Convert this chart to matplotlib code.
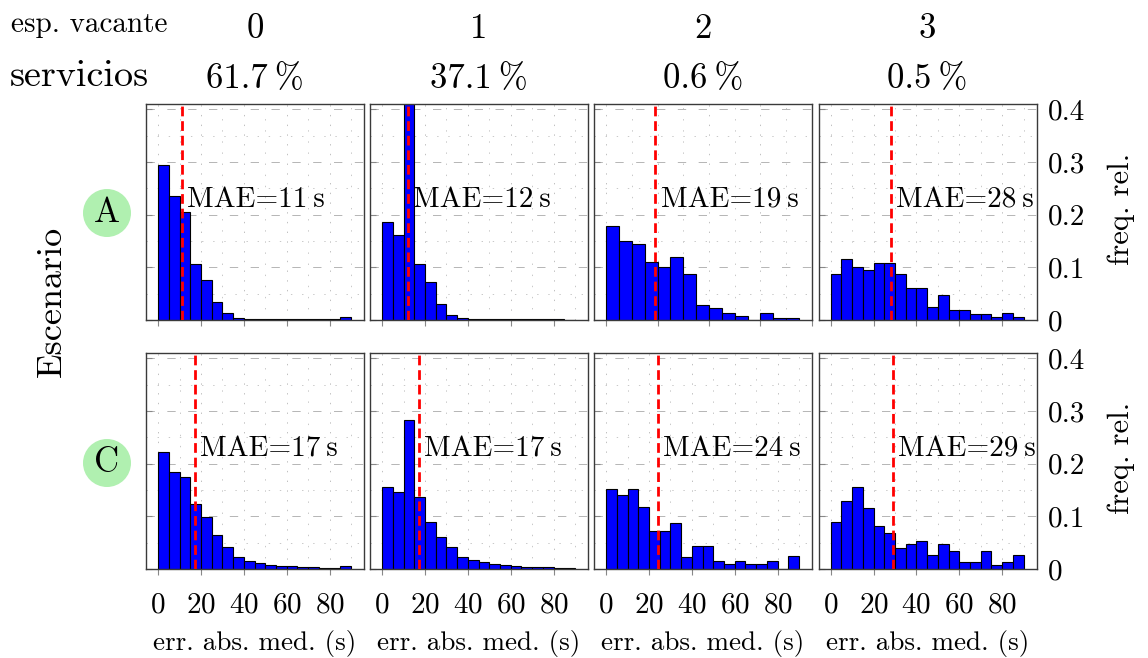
import numpy as np
import matplotlib.pyplot as plt
from matplotlib.patches import Ellipse
from matplotlib.ticker import MultipleLocator, FuncFormatter

plt.rcParams['font.family'] = ['cmr10', 'DejaVu Sans']
plt.rcParams['axes.formatter.use_mathtext'] = True
plt.rcParams['lines.scale_dashes'] = False

# relative frequency per 5 s bin
bin_width = 5
hist_A0 = [0.295, 0.235, 0.205, 0.107, 0.075, 0.034, 0.014, 0.004, 0.002,
           0.002, 0.001, 0.001, 0.001, 0.001, 0.001, 0.001, 0.001, 0.005]
hist_A1 = [0.186, 0.162, 0.45, 0.106, 0.072, 0.031, 0.010, 0.003, 0.001,
           0.001, 0.001, 0.001, 0.001, 0.001, 0.001, 0.001, 0.001, 0.0]
hist_A2 = [0.179, 0.150, 0.145, 0.111, 0.100, 0.120, 0.087, 0.028, 0.023,
           0.013, 0.008, 0.0, 0.013, 0.004, 0.004]
hist_A3 = [0.087, 0.116, 0.101, 0.095, 0.109, 0.109, 0.087, 0.060, 0.060,
           0.025, 0.047, 0.019, 0.019, 0.011, 0.011, 0.006, 0.013, 0.006]
hist_C0 = [0.222, 0.184, 0.175, 0.124, 0.099, 0.065, 0.042, 0.023, 0.016,
           0.011, 0.008, 0.006, 0.006, 0.004, 0.003, 0.002, 0.002, 0.005]
hist_C1 = [0.155, 0.147, 0.283, 0.136, 0.089, 0.060, 0.042, 0.023, 0.017,
           0.013, 0.009, 0.007, 0.006, 0.004, 0.004, 0.003, 0.002, 0.001]
hist_C2 = [0.151, 0.141, 0.151, 0.117, 0.073, 0.073, 0.087, 0.023, 0.044,
           0.044, 0.015, 0.010, 0.015, 0.010, 0.010, 0.015, 0.0, 0.024]
hist_C3 = [0.089, 0.129, 0.156, 0.116, 0.082, 0.068, 0.040, 0.047, 0.054,
           0.027, 0.047, 0.034, 0.013, 0.013, 0.034, 0.007, 0.013, 0.027]

mae_A = [11, 12, 19, 28]
mae_C = [17, 17, 24, 29]
vacantes = ['0', '1', '2', '3']
servicios = ['61.7', '37.1', '0.6', '0.5']
escenarios = ['A', 'C']

hists = [[hist_A0, hist_A1, hist_A2, hist_A3],
         [hist_C0, hist_C1, hist_C2, hist_C3]]
maes = [mae_A, mae_C]

W, H = 1148, 658
fig = plt.figure(figsize=(W / 100, H / 100), dpi=100)

col_left = [146, 370, 594, 818.5]
row_top = [104, 353]
ax_w, ax_h = 218, 216


def fx(x):
    return x / W


def fy(y):
    return 1 - y / H


yfmt = FuncFormatter(lambda v, p: '0' if abs(v) < 1e-9 else f'{v:.1f}')

for r in range(2):
    for c in range(4):
        ax = fig.add_axes([fx(col_left[c]), fy(row_top[r] + ax_h), ax_w / W, ax_h / H])
        h = np.array(hists[r][c])
        edges = np.arange(len(h)) * bin_width
        ax.bar(edges, h, width=bin_width, align='edge', color='#0000ff',
               edgecolor='black', linewidth=0.8, zorder=2)
        span = len(h) * bin_width
        ax.set_xlim(-0.063 * span, 1.067 * span)
        ax.set_ylim(0, 0.41)

        m = maes[r][c]
        ax.axvline(m, color='#ff0000', lw=2, ls=(0, (7, 3.5)), zorder=3)
        ax.annotate(f'MAE={m}\u2009s', xy=(m, 0.228), xytext=(4, 0),
                    textcoords='offset points', ha='left', va='center',
                    fontsize=21, zorder=4)

        ax.xaxis.set_major_locator(MultipleLocator(20))
        ax.xaxis.set_minor_locator(MultipleLocator(10))
        ax.yaxis.set_major_locator(MultipleLocator(0.1))
        ax.yaxis.set_minor_locator(MultipleLocator(0.05))
        ax.yaxis.set_major_formatter(yfmt)
        ax.set_axisbelow(True)
        ax.grid(which='major', axis='y', color='#b5b5b5', lw=0.7, ls=(0, (6, 9)))
        ax.grid(which='major', axis='x', color='#c0c0c0', lw=0.7, ls=(0, (1, 6)))
        ax.grid(which='minor', color='#c8c8c8', lw=0.7, ls=(0, (1, 7)))

        ax.tick_params(which='minor', length=0)
        ax.tick_params(axis='y', direction='in', length=4, color='#888888',
                       left=True, right=False, labelleft=False,
                       labelright=(c == 3), labelsize=21, pad=8)
        ax.tick_params(axis='x', direction='out', length=4, color='#888888',
                       labelbottom=(r == 1), labelsize=21, pad=13)
        for s in ax.spines.values():
            s.set_color('#3a3a3a')
            s.set_linewidth(1.0)

# column headers
for c in range(4):
    cx = fx(col_left[c] + ax_w / 2)
    fig.text(cx, fy(38), vacantes[c], ha='center', va='baseline', fontsize=25)
    fig.text(cx, fy(88), f'{servicios[c]}\u2009%', ha='center', va='baseline', fontsize=25)
    fig.text(cx, fy(650), 'err. abs. med. (s)', ha='center', va='baseline', fontsize=19.5)

fig.text(fx(11), fy(32), 'esp. vacante', ha='left', va='baseline', fontsize=21)
fig.text(fx(10), fy(86), 'servicios', ha='left', va='baseline', fontsize=27.5)
fig.text(fx(52), fy(301), 'Escenario', rotation=90, ha='center', va='center', fontsize=26)

# scenario badges and right-hand labels
for r, name in enumerate(escenarios):
    cy = [213, 463][r]
    fig.add_artist(Ellipse((fx(107), fy(cy)), 48 / W, 48 / H,
                           transform=fig.transFigure, fc='#b0f0b0', ec='none'))
    fig.text(fx(107), fy(cy), name, ha='center', va='center', fontsize=25)
    fig.text(fx(1121), fy(row_top[r] + ax_h / 2 - 3), 'freq. rel.', rotation=90,
             ha='center', va='center', fontsize=22)

fig.savefig('out.png', dpi=100)
